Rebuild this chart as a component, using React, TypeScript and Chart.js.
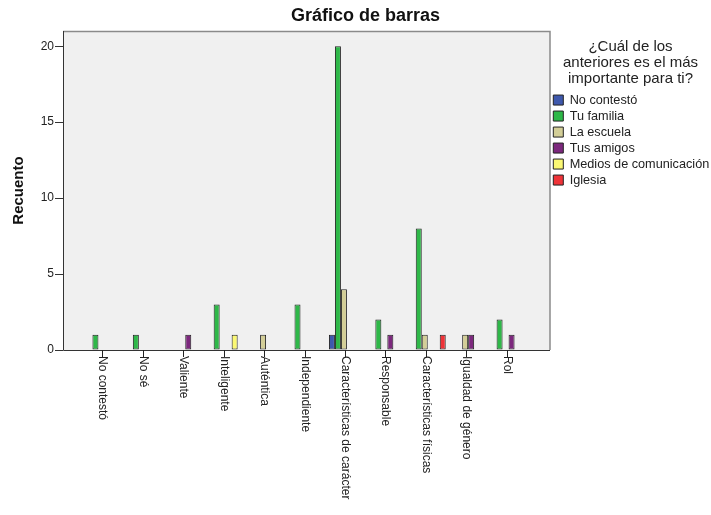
import React, { useEffect, useRef } from "react";
import { Chart, registerables } from "chart.js";

Chart.register(...registerables);

const categories = [
  "No contestó",
  "No sé",
  "Valiente",
  "Inteligente",
  "Auténtica",
  "Independiente",
  "Características de carácter",
  "Responsable",
  "Características físicas",
  "Igualdad de género",
  "Rol",
];

const seriesNames = [
  "No contestó",
  "Tu familia",
  "La escuela",
  "Tus amigos",
  "Medios de comunicación",
  "Iglesia",
];

const noContesto = [0, 0, 0, 0, 0, 0, 1, 0, 0, 0, 0];
const tuFamilia = [1, 1, 0, 3, 0, 3, 20, 2, 8, 0, 2];
const laEscuela = [0, 0, 0, 0, 1, 0, 4, 0, 1, 1, 0];
const tusAmigos = [0, 0, 1, 0, 0, 0, 0, 1, 0, 1, 1];
const medios = [0, 0, 0, 1, 0, 0, 0, 0, 0, 0, 0];
const iglesia = [0, 0, 0, 0, 0, 0, 0, 0, 1, 0, 0];

const seriesValues = [noContesto, tuFamilia, laEscuela, tusAmigos, medios, iglesia];
const seriesColors = ["#3e58ac", "#2eb848", "#d3ce97", "#7c287d", "#fbf873", "#ef3338"];

const yTicks = [0, 5, 10, 15, 20];
const yMax = 21;

const FONT = "Arial, 'Liberation Sans', sans-serif";

const bgPlugin = {
  id: "plotBg",
  beforeDatasetsDraw(chart: any) {
    const { ctx, chartArea } = chart;
    ctx.save();
    ctx.fillStyle = "#f0f0f0";
    ctx.fillRect(chartArea.left, chartArea.top, chartArea.right - chartArea.left, chartArea.bottom - chartArea.top);
    ctx.restore();
  },
  afterDatasetsDraw(chart: any) {
    const { ctx, chartArea } = chart;
    const { left, right, top, bottom } = chartArea;
    ctx.save();
    ctx.lineWidth = 1.5;
    ctx.strokeStyle = "#8a8a8a";
    ctx.beginPath();
    ctx.moveTo(left, top + 0.5);
    ctx.lineTo(right, top + 0.5);
    ctx.lineTo(right, bottom);
    ctx.stroke();
    ctx.lineWidth = 1;
    ctx.strokeStyle = "#333";
    ctx.beginPath();
    ctx.moveTo(left + 0.5, top);
    ctx.lineTo(left + 0.5, bottom + 0.5);
    ctx.lineTo(right, bottom + 0.5);
    ctx.stroke();
    ctx.restore();
  },
};

const xLabelPlugin = {
  id: "xLabels",
  afterDraw(chart: any) {
    const { ctx, chartArea } = chart;
    const xs = chart.scales.x;
    ctx.save();
    ctx.font = "12px " + FONT;
    ctx.fillStyle = "#222";
    ctx.strokeStyle = "#222";
    ctx.lineWidth = 1;
    categories.forEach((label, i) => {
      const x = Math.round(xs.getPixelForValue(i) - 2) + 0.5;
      ctx.beginPath();
      ctx.moveTo(x, chartArea.bottom);
      ctx.lineTo(x, chartArea.bottom + 7);
      ctx.stroke();
      ctx.save();
      ctx.translate(x, chartArea.bottom + 6);
      ctx.rotate(Math.PI / 2);
      ctx.textAlign = "left";
      ctx.textBaseline = "middle";
      ctx.fillText(label, 0, 0);
      ctx.restore();
    });
    ctx.restore();
  },
};

export default function App() {
  const ref = useRef<HTMLCanvasElement>(null);

  useEffect(() => {
    if (!ref.current) return;
    const datasets = seriesNames.map((name, s) => ({
      label: name,
      data: categories.map((_, i) => ({ x: i, y: seriesValues[s][i] || null })),
      backgroundColor: seriesColors[s],
      borderColor: "#222",
      borderWidth: 1,
      borderSkipped: false,
      categoryPercentage: 0.89,
      barPercentage: 1.0,
    }));
    const chart = new Chart(ref.current, {
      type: "bar",
      data: { datasets } as any,
      plugins: [bgPlugin, xLabelPlugin],
      options: {
        animation: false,
        responsive: false,
        layout: { padding: { left: 20, right: 0, top: 0, bottom: 0 } },
        plugins: {
          title: {
            display: true,
            text: "Gráfico de barras",
            color: "#111",
            font: { family: FONT, size: 18, weight: "bold", lineHeight: 1.2 },
            padding: { top: 5.7, bottom: 3.7 },
          },
          legend: {
            position: "right",
            align: "start",
            maxWidth: 161,
            title: {
              display: true,
              text: ["¿Cuál de los", "anteriores es el más", "importante para ti?"],
              color: "#222",
              font: { family: FONT, size: 15, lineHeight: 1.05 },
              padding: { top: 39.5, bottom: 35.15 },
            },
            labels: {
              boxWidth: 10,
              boxHeight: 10,
              padding: 3.3,
              color: "#222",
              font: { family: FONT, size: 12.7 },
            },
          },
          tooltip: { enabled: false },
        },
        scales: {
          x: {
            type: "linear",
            offset: false,
            min: -1.025,
            max: 11.025,
            grid: { display: false, offset: false },
            border: { display: false },
            ticks: { display: false },
            afterFit: (scale: any) => {
              scale.height = 165;
            },
          },
          y: {
            min: 0,
            max: yMax,
            afterBuildTicks: (scale: any) => {
              scale.ticks = yTicks.map((v) => ({ value: v }));
            },
            afterFit: (scale: any) => {
              scale.width = 43;
            },
            grid: {
              display: true,
              drawOnChartArea: false,
              drawTicks: true,
              tickLength: 8,
              color: "#333",
            },
            border: { display: false },
            ticks: {
              padding: 1,
              color: "#222",
              font: { family: FONT, size: 12 },
            },
            title: {
              display: true,
              text: "Recuento",
              color: "#111",
              font: { family: FONT, size: 15, weight: "bold", lineHeight: 1.2 },
              padding: { top: -10, bottom: 0 },
            },
          },
        },
      } as any,
    });
    return () => chart.destroy();
  }, []);

  return (
    <div style={{ position: "absolute", left: 0, top: 0, width: 711, height: 515, background: "#fff" }}>
      <canvas ref={ref} width={711} height={515} style={{ display: "block" }} />
    </div>
  );
}
